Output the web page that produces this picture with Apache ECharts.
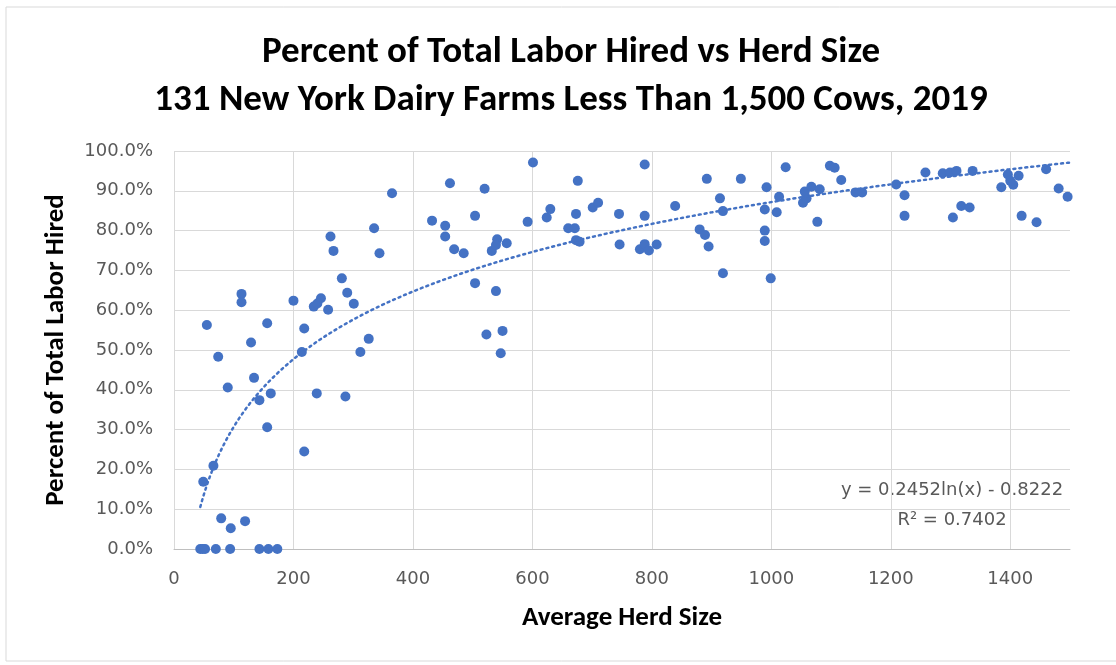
<!DOCTYPE html>
<html>
<head>
<meta charset="utf-8">
<script src="https://cdn.jsdelivr.net/npm/echarts@6/dist/echarts.min.js"></script>
<style>
html,body{margin:0;padding:0;background:#fff;}
#chart{width:1116px;height:665px;}
</style>
</head>
<body>
<div id="chart"></div>
<script>
// Average herd size (x) and percent of total labor hired (y, fraction)
const herdSize = [
  44, 48, 52, 70, 94, 143, 158, 173,
  55, 49, 66, 74, 90, 79, 95, 119, 113, 113, 129, 134, 143, 156, 162, 156,
  200, 218, 214, 218, 239, 234, 246, 240, 258, 262, 267, 281, 290, 301, 287,
  312, 326, 335, 344, 365, 432, 462, 454, 454, 469,
  485, 504, 520, 504, 532, 541, 557, 539, 539, 523, 550, 547, 601, 592, 624,
  630, 660, 671, 673, 676, 673, 679, 701, 710, 745, 746, 780, 788, 795, 808,
  788, 788, 839, 880, 889, 895, 892, 914, 919, 919, 949, 992, 989, 989, 989,
  999, 1009, 1013, 1024, 1053, 1059, 1056, 1067, 1081, 1077, 1098, 1106, 1117,
  1141, 1152, 1209, 1223, 1223, 1258, 1287, 1299, 1310, 1304, 1318, 1332, 1337,
  1385, 1396, 1405, 1414, 1400, 1419, 1444, 1460, 1481, 1496
];
const laborHired = [
  0, 0, 0, 0, 0, 0, 0, 0,
  0.563, 0.169, 0.209, 0.483, 0.406, 0.077, 0.052, 0.070, 0.641, 0.620, 0.519, 0.430, 0.374, 0.567, 0.391, 0.306,
  0.624, 0.554, 0.495, 0.245, 0.391, 0.609, 0.630, 0.617, 0.601, 0.785, 0.749, 0.680, 0.644, 0.616, 0.383,
  0.495, 0.528, 0.806, 0.743, 0.894, 0.825, 0.919, 0.812, 0.785, 0.753,
  0.743, 0.837, 0.905, 0.668, 0.749, 0.778, 0.768, 0.764, 0.648, 0.539, 0.548, 0.492, 0.971, 0.822, 0.833,
  0.854, 0.806, 0.806, 0.842, 0.925, 0.776, 0.772, 0.858, 0.870, 0.842, 0.765, 0.753, 0.766, 0.750, 0.765,
  0.837, 0.966, 0.862, 0.803, 0.789, 0.760, 0.930, 0.881, 0.849, 0.693, 0.930, 0.909, 0.853, 0.800, 0.774,
  0.680, 0.846, 0.885, 0.959, 0.870, 0.881, 0.898, 0.910, 0.904, 0.822, 0.963, 0.958, 0.927,
  0.896, 0.896, 0.916, 0.889, 0.837, 0.946, 0.944, 0.946, 0.950, 0.833, 0.862, 0.858, 0.950,
  0.909, 0.941, 0.915, 0.938, 0.925, 0.837, 0.821, 0.954, 0.906, 0.885
];
// Logarithmic trendline as reported on the chart: y = a*ln(x) + b
const trendA = 0.2452;
const trendB = -0.8222;
const trendStart = 44;
const trendEnd = 1500;
const xTicks = [0, 200, 400, 600, 800, 1000, 1200, 1400];
const titleLines = ['Percent of Total Labor Hired vs Herd Size', '131 New York Dairy Farms Less Than 1,500 Cows, 2019'];
const eqText = 'y = 0.2452ln(x) - 0.8222';
const r2Text = 'R² = 0.7402';

const points = herdSize.map((x, i) => [x, laborHired[i]]);
const trend = [];
for (let x = trendStart; x <= trendEnd; x += 4) trend.push([x, trendA * Math.log(x) + trendB]);

const chart = echarts.init(document.getElementById('chart'), null, {renderer: 'canvas'});
const labelFont = "'DejaVu Sans', sans-serif";
const boldFont = "Carlito, Lato, 'Open Sans', sans-serif";
chart.setOption({
  animation: false,
  backgroundColor: '#ffffff',
  title: [
    {text: titleLines[0], left: 566, top: 29, textAlign: 'center',
     textStyle: {fontFamily: boldFont, fontWeight: 'bold', fontSize: 37, color: '#000'}},
    {text: titleLines[1], left: 566, top: 77, textAlign: 'center',
     textStyle: {fontFamily: boldFont, fontWeight: 'bold', fontSize: 37, color: '#000'}}
  ],
  grid: {left: 174, right: 46, top: 151, bottom: 116, containLabel: false},
  xAxis: {
    type: 'value', min: 0, max: 1500, interval: 200,
    name: 'Average Herd Size', nameLocation: 'middle', nameGap: 56,
    nameTextStyle: {fontFamily: boldFont, fontWeight: 'bold', fontSize: 27, color: '#000'},
    axisLine: {show: true, lineStyle: {color: '#bfbfbf', width: 1}},
    axisTick: {show: false},
    axisLabel: {margin: 21, fontFamily: labelFont, fontSize: 18, color: '#595959', showMaxLabel: false,
      formatter: v => xTicks.includes(v) ? String(v) : ''},
    splitLine: {show: true, showMaxLine: false, lineStyle: {color: '#d9d9d9', width: 1}}
  },
  yAxis: {
    type: 'value', min: 0, max: 1, interval: 0.1,
    name: 'Percent of Total Labor Hired', nameLocation: 'middle', nameGap: 104,
    nameTextStyle: {fontFamily: boldFont, fontWeight: 'bold', fontSize: 27, color: '#000'},
    axisLine: {show: false},
    axisTick: {show: false},
    axisLabel: {margin: 21, fontFamily: labelFont, fontSize: 18, color: '#595959',
      formatter: v => (v * 100).toFixed(1) + '%'},
    splitLine: {show: true, lineStyle: {color: '#d9d9d9', width: 1}}
  },
  graphic: [
    {type: 'rect', silent: true, z: -10, shape: {x: 6, y: 7, width: 1130, height: 654},
     style: {fill: 'none', stroke: '#d9d9d9', lineWidth: 1}},
    {type: 'text', silent: true, style: {text: eqText, x: 952, y: 490, textAlign: 'center', textVerticalAlign: 'middle',
      font: "18px 'DejaVu Sans', sans-serif", fill: '#595959'}},
    {type: 'text', silent: true, style: {text: r2Text, x: 952, y: 520, textAlign: 'center', textVerticalAlign: 'middle',
      font: "18px 'DejaVu Sans', sans-serif", fill: '#595959'}}
  ],
  series: [
    {type: 'scatter', data: points, symbol: 'circle', symbolSize: 10,
     itemStyle: {color: '#4472C4', opacity: 1}, z: 2},
    {type: 'line', data: trend, showSymbol: false, symbol: 'none', smooth: false, z: 3,
     lineStyle: {color: '#4472C4', width: 2.5, type: [2, 4], cap: 'round'}}
  ]
});
</script>
</body>
</html>
